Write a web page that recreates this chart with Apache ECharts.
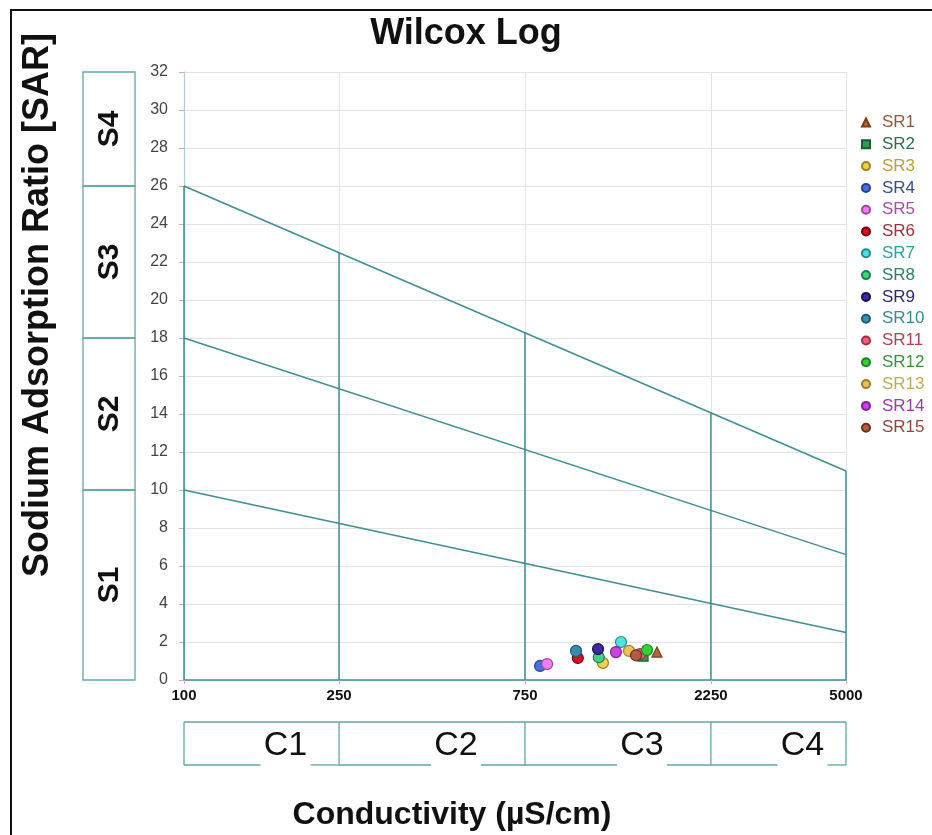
<!DOCTYPE html>
<html>
<head>
<meta charset="utf-8">
<title>Wilcox Log</title>
<script src="https://cdn.jsdelivr.net/npm/echarts@6/dist/echarts.min.js"></script>
<style>
  html, body { margin: 0; padding: 0; background: #fff; }
  #chart { width: 932px; height: 835px; }
</style>
</head>
<body>
<div id="chart"></div>
<script>
// ---- data ----
const sampleNames = ['SR1', 'SR2', 'SR3', 'SR4', 'SR5', 'SR6', 'SR7', 'SR8',
                     'SR9', 'SR10', 'SR11', 'SR12', 'SR13', 'SR14', 'SR15'];
// electrical conductivity, µS/cm
const conductivity = [1636, 1507, 1189, 820, 855, 1025, 1323, 1160,
                      1155, 1014, 1480, 1543, 1387, 1284, 1446];
// sodium adsorption ratio
const sar = [1.47, 1.26, 0.90, 0.74, 0.84, 1.16, 2.00, 1.20,
             1.63, 1.53, 1.36, 1.58, 1.53, 1.47, 1.30];

const sampleSymbols = ['triangle', 'rect', 'circle', 'circle', 'circle', 'circle', 'circle', 'circle',
                       'circle', 'circle', 'circle', 'circle', 'circle', 'circle', 'circle'];
const fillColors = ['#b0683a', '#2f9a52', '#f0d048', '#4c6fe0', '#f07ef0', '#d01222', '#52e0e0', '#42d282',
                    '#3a2a9c', '#3a8cb2', '#f06080', '#32d232', '#eac456', '#d042e0', '#b05c44'];
const borderColors = ['#74401c', '#1c5c30', '#9c8420', '#2a3c90', '#a040a0', '#7c0010', '#208a8a', '#1f7e4e',
                      '#1a1052', '#1e5a72', '#a03042', '#1f7f1f', '#9c7e2e', '#7e1ea0', '#6e2e1e'];
const labelColors = ['#8c5a3a', '#2e6e4a', '#b8a23e', '#3a4c94', '#a44ea4', '#a2303a', '#2fa0a2', '#2f8060',
                     '#2e2a72', '#3a8a92', '#b24252', '#3e8e3e', '#c2aa52', '#9440a4', '#94443e'];

// x axis (log scale) tick values and y axis range
const xTicks = [100, 250, 750, 2250, 5000];
const yMin = 0, yMax = 32, yStep = 2;

// classification diagram
const salinityClasses = ['C1', 'C2', 'C3', 'C4'];
const sodiumClasses = ['S1', 'S2', 'S3', 'S4'];
const sodiumBreaks = [0, 10, 18, 26, 32];           // SAR at 100 µS/cm
const boundaryS1S2 = [[100, 10], [5000, 2.5]];
const boundaryS2S3 = [[100, 18], [5000, 6.6]];
const boundaryS3S4 = [[100, 26], [5000, 11]];
// vertical class dividers: conductivity, SAR where each meets the S3/S4 line
const dividerTops = [[100, 26], [250, 22.5], [750, 18.3], [2250, 14.1], [5000, 11]];

// ---- style ----
const FONT = '"Liberation Sans", Arial, Helvetica, sans-serif';
const TEAL = '#3f8e90';
const BOX = '#5ea6a8';
const GRID_LEFT = 184, GRID_RIGHT = 86, GRID_TOP = 72, GRID_BOTTOM = 155;

const chart = echarts.init(document.getElementById('chart'), null, { renderer: 'canvas' });

const tealLine = (name, pts) => ({
  name, type: 'line', data: pts, symbol: 'none', silent: true, z: 3,
  lineStyle: { color: TEAL, width: 1.5 }, animation: false
});

const frameSeries = [
  tealLine('S1/S2', boundaryS1S2),
  tealLine('S2/S3', boundaryS2S3),
  tealLine('S3/S4', boundaryS3S4),
  ...dividerTops.map(d => tealLine('div' + d[0], [[d[0], 0], d]))
];

const sampleSeries = sampleNames.map((name, i) => ({
  name, type: 'scatter', z: 5, animation: false,
  symbol: sampleSymbols[i],
  symbolSize: sampleSymbols[i] === 'circle' ? 11 : 10,
  data: [[conductivity[i], sar[i]]],
  itemStyle: { color: fillColors[i], borderColor: borderColors[i], borderWidth: 1.2, opacity: 1 }
}));

chart.setOption({
  animation: false,
  backgroundColor: '#fff',
  title: {
    text: 'Wilcox Log', left: 'center', top: 11,
    textStyle: { fontFamily: FONT, fontSize: 36, fontWeight: 'bold', color: '#111' }
  },
  grid: { left: GRID_LEFT, right: GRID_RIGHT, top: GRID_TOP, bottom: GRID_BOTTOM, containLabel: false },
  xAxis: {
    type: 'log', logBase: 10, min: xTicks[0], max: xTicks[xTicks.length - 1],
    axisLine: { show: true, lineStyle: { color: TEAL, width: 1.5 } },
    axisTick: { show: true, customValues: xTicks, length: 4, lineStyle: { color: '#d4aaaa' } },
    axisLabel: {
      customValues: xTicks, margin: 8, color: '#111', fontFamily: FONT,
      fontSize: 15, fontWeight: 'bold', formatter: v => String(Math.round(v))
    },
    splitLine: { show: true, lineStyle: { color: '#e3e3e3', width: 1 } },
    minorTick: { show: false }, minorSplitLine: { show: false }
  },
  yAxis: {
    type: 'value', min: yMin, max: yMax, interval: yStep,
    axisLine: { show: true, onZero: false, lineStyle: { color: '#a9d0d0', width: 1.2 } },
    axisTick: { show: true, length: 5, lineStyle: { color: '#d4aaaa' } },
    axisLabel: { margin: 16, color: '#444', fontFamily: FONT, fontSize: 16 },
    splitLine: { show: true, lineStyle: { color: '#e3e3e3', width: 1 } }
  },
  legend: {
    orient: 'vertical', left: 856, top: 109,
    itemWidth: 8, itemHeight: 8, itemGap: 4.8,
    textStyle: { fontFamily: FONT, fontSize: 17, padding: [0, 0, 0, 7] },
    data: sampleNames.map((name, i) => ({
      name, icon: sampleSymbols[i], textStyle: { color: labelColors[i] }
    })),
    selectedMode: false
  },
  series: [...frameSeries, ...sampleSeries]
});

// ---- class boxes, frame and axis names ----
function px(x, y) { return chart.convertToPixel({ gridIndex: 0 }, [x, y]); }

const graphics = [];
const boxLeft = GRID_LEFT - 101, boxWidth = 52;

// sodium hazard classes (left column)
sodiumClasses.forEach((label, i) => {
  const yBottom = px(100, sodiumBreaks[i])[1];
  const yTop = px(100, sodiumBreaks[i + 1])[1];
  graphics.push({
    type: 'rect', silent: true,
    shape: { x: boxLeft, y: yTop, width: boxWidth, height: yBottom - yTop },
    style: { fill: 'none', stroke: BOX, lineWidth: 1.3 }
  });
  graphics.push({
    type: 'text', silent: true, x: boxLeft + boxWidth / 2 + 1, y: (yTop + yBottom) / 2,
    rotation: Math.PI / 2,
    style: { text: label, font: 'bold 30px ' + FONT, fill: '#111', align: 'center', verticalAlign: 'middle' }
  });
});

// salinity hazard classes (bottom row)
const cTop = 722, cBottom = 765, labelHalf = 25, labelShift = 24;
const bx = xTicks.map(v => px(v, 0)[0]);
graphics.push({
  type: 'line', silent: true,
  shape: { x1: bx[0], y1: cTop, x2: bx[bx.length - 1], y2: cTop },
  style: { stroke: BOX, lineWidth: 1.3 }
});
bx.forEach(x => graphics.push({
  type: 'line', silent: true,
  shape: { x1: x, y1: cTop, x2: x, y2: cBottom },
  style: { stroke: BOX, lineWidth: 1.3 }
}));
salinityClasses.forEach((label, i) => {
  const cx = (bx[i] + bx[i + 1]) / 2 + labelShift;
  graphics.push({
    type: 'polyline', silent: true,
    shape: { points: [[bx[i], cBottom], [cx - labelHalf, cBottom]] },
    style: { stroke: BOX, lineWidth: 1.3, fill: null }
  });
  graphics.push({
    type: 'polyline', silent: true,
    shape: { points: [[cx + labelHalf, cBottom], [bx[i + 1], cBottom]] },
    style: { stroke: BOX, lineWidth: 1.3, fill: null }
  });
  graphics.push({
    type: 'text', silent: true, x: cx, y: 746,
    style: { text: label, font: '34px ' + FONT, fill: '#111', align: 'center', verticalAlign: 'middle' }
  });
});

// axis names
graphics.push({
  type: 'text', silent: true, x: 38, y: 305, rotation: Math.PI / 2,
  style: { text: 'Sodium Adsorption Ratio [SAR]', font: 'bold 36px ' + FONT, fill: '#111',
           align: 'center', verticalAlign: 'middle' }
});
graphics.push({
  type: 'text', silent: true, x: 452, y: 815,
  style: { text: 'Conductivity (µS/cm)', font: 'bold 32px ' + FONT, fill: '#111',
           align: 'center', verticalAlign: 'middle' }
});

// outer frame (top and left edges)
graphics.push({
  type: 'polyline', silent: true,
  shape: { points: [[11, 835], [11, 10], [932, 10]] },
  style: { stroke: '#111', lineWidth: 2, fill: null }
});

chart.setOption({ graphic: graphics });
</script>
</body>
</html>
